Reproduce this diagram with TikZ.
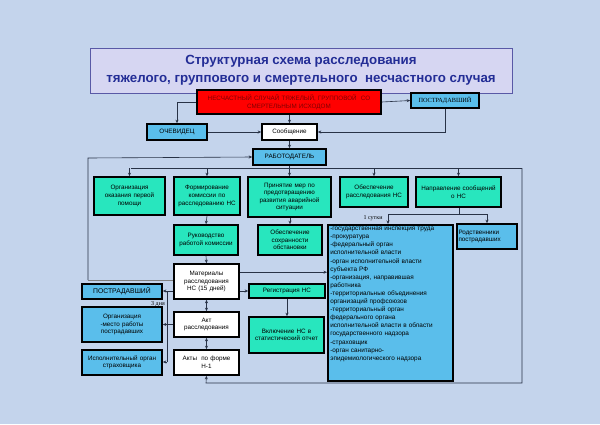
\documentclass[tikz,border=0pt]{standalone}
\usepackage{fontspec}
\setmainfont{Liberation Sans}
\newfontfamily\serf{Liberation Serif}
\usetikzlibrary{arrows.meta}
\definecolor{bg}{RGB}{196,212,236}
\definecolor{teal}{RGB}{40,230,190}
\definecolor{lblue}{RGB}{90,190,235}
\definecolor{tbox}{RGB}{214,214,242}
\definecolor{navy}{RGB}{35,45,150}
\definecolor{lin}{RGB}{40,50,70}
\newcommand{\mybox}[7]{\node[#6,minimum width={(#4-#2)*1pt},minimum height={(#5-#3)*1pt},text width={(#4-#2-3)*1pt}] (#1) at ({(#2+#4)/2},{(#3+#5)/2}) {#7};}
\begin{document}
\begin{tikzpicture}[x=1pt,y=-1pt,
  b/.style={draw=black,line width=1.6pt,inner sep=0pt,align=center,font=\fontsize{6.3}{7.6}\selectfont},
  tb/.style={b,fill=teal},
  lb/.style={b,fill=lblue},
  wb/.style={b,fill=white},
  ln/.style={draw=lin,line width=0.6pt},
  ar/.style={ln,-{Stealth[length=3.5pt,width=3pt]}},
  da/.style={ln,{Stealth[length=3.5pt,width=3pt]}-{Stealth[length=3.5pt,width=3pt]}}]
\fill[bg] (0,0) rectangle (600,424);
\useasboundingbox (0,0) rectangle (600,424);
\node[draw=gray!70!blue,line width=0.8pt,fill=tbox,minimum width=422pt,minimum height=45pt,align=center,text=navy,font=\bfseries\fontsize{13.3}{18}\selectfont] (title) at (301,70.5) {Структурная схема расследования\\тяжелого, группового и смертельного\ \ несчастного случая};
\mybox{red}{197}{90}{381}{114}{b,fill=red,text=red!50!black}{НЕСЧАСТНЫЙ СЛУЧАЙ ТЯЖЕЛЫЙ, ГРУППОВОЙ\ \ СО\\СМЕРТЕЛЬНЫМ ИСХОДОМ}
\mybox{pt}{411}{93}{479}{108}{lb,font=\serf\fontsize{6.3}{7.6}\selectfont}{ПОСТРАДАВШИЙ}
\mybox{och}{147}{124}{207}{140}{lb}{ОЧЕВИДЕЦ}
\mybox{soob}{262}{124}{317}{140}{wb}{Сообщение}
\mybox{rab}{253}{149}{326}{165}{lb}{РАБОТОДАТЕЛЬ}
\mybox{A}{94}{177}{165}{215}{tb}{Организация\\оказания первой\\помощи}
\mybox{B}{174}{177}{240}{215}{tb}{Формирование\\комиссии по\\расследованию НС}
\mybox{C}{248}{177}{331}{217}{tb}{Принятие мер по\\предотвращению\\развития аварийной\\ситуации}
\mybox{D}{340}{177}{408}{207}{tb}{Обеспечение\\расследования НС}
\mybox{E}{416}{177}{501}{207}{tb}{Направление сообщений\\о НС}
\mybox{ruk}{174}{225}{238}{255}{tb}{Руководство\\работой комиссии}
\mybox{sohr}{258}{225}{322}{255}{tb}{Обеспечение\\сохранности\\обстановки}
\mybox{rod}{457}{224}{517}{249}{lb,align=left}{Родственники\\пострадавших}
\node[b,fill=lblue,minimum width=125pt,minimum height=156pt,text width=120pt,align=left,anchor=north west,inner sep=2pt,font=\fontsize{6.4}{8.1}\selectfont] (list) at (327,224) {-государственная инспекция труда\\-прокуратура\\-федеральный орган\\исполнительной власти\\-орган исполнительной власти\\субъекта РФ\\-организация, направившая\\работника\\-территориальные объединения\\организаций профсоюзов\\-территориальный орган\\федерального органа\\исполнительной власти в области\\государственного надзора\\-страховщик\\-орган санитарно-\\эпидемиологического надзора\\[10pt]\mbox{}};
\mybox{mat}{174}{264}{239}{299}{wb}{Материалы\\расследования\\НС (15 дней)}
\mybox{pl}{82}{284}{162}{299}{lb,font=\fontsize{6.8}{8}\selectfont}{ПОСТРАДАВШИЙ}
\mybox{reg}{249}{284}{325}{298}{tb}{Регистрация НС}
\mybox{org}{82}{307}{162}{342}{lb}{Организация\\-место работы\\пострадавших}
\mybox{akt}{174}{312}{239}{337}{wb}{Акт\\расследования}
\mybox{vkl}{249}{317}{324}{353}{tb}{Включение НС в\\статистический отчет}
\mybox{isp}{82}{350}{162}{375}{lb}{Исполнительный орган\\страховщика}
\mybox{akty}{174}{350}{239}{375}{wb}{Акты\ \ по форме\\Н-1}
% connectors
\draw[ar] (red.east) -- (pt.west);
\draw[ar] (red.west) -| (och.north);
\draw[ar] (red.south -| soob.north) -- (soob.north);
\draw[ar] (och.east) -- (soob.west);
\draw[ar] (pt.south) |- (soob.east);
\draw[ar] (soob.south) -- (rab.north);
\coordinate (fb1) at (88,158);
\coordinate (fb2) at (88,280);
\draw[ar] (fb2) -- (fb1) -- (rab.west);
\draw[ln,draw=gray] (fb2) -- (mat.west |- fb2);
\coordinate (bl) at (131,168);
\coordinate (br) at (522,168);
\draw[ln] (rab.south) -- (rab.south |- bl);
\draw[ln] (bl) -- (br);
\foreach \n in {A,B,C,D,E} \draw[ar] (\n.north |- bl) -- (\n.north);
\coordinate (eh) at (459,214);
\draw[ln] (E.south -| eh) -- (eh);
\draw[ar] (eh) -| ([xshift=61pt]list.north west);
\draw[ar] (eh) -| (rod.north);
\node[font=\serf\fontsize{6}{7}\selectfont,anchor=east] (sut) at (386,218) {1 сутки};
\draw[ar] (B.south) -- (ruk.north);
\draw[ar] (sohr.north |- C.south) -- (sohr.north);
\draw[ar] (ruk.south) -- (mat.north);
\draw[ar] ([yshift=-9pt]mat.north east) -- ([yshift=-9pt]mat.north east -| list.west);
\draw[ar] (mat.east |- reg.west) -- (reg.west);
\draw[ar] (reg.south -| 287,0) -- (vkl.north -| 287,0);
\draw[da] (mat.south) -- (akt.north);
\draw[da] (akt.south) -- (akty.north);
\coordinate (vt) at (167,291);
\coordinate (vb) at (167,362);
\draw[ar] (mat.west |- vt) -- (pl.east |- vt);
\draw[ln] (vt) -- (vb);
\draw[ln] (akt.west) -- (akt.west -| vt);
\draw[ar] (org.east -| vt) -- (org.east);
\draw[ar] (vb) -- (isp.east |- vb);
\node[font=\serf\fontsize{6}{7}\selectfont] (dn) at (158,304) {3 дня};
\coordinate (c1) at (522,383);
\coordinate (c2) at (206,383);
\draw[ar] (br) -- (c1) -- (c2) -- (akty.south);
\end{tikzpicture}
\end{document}
